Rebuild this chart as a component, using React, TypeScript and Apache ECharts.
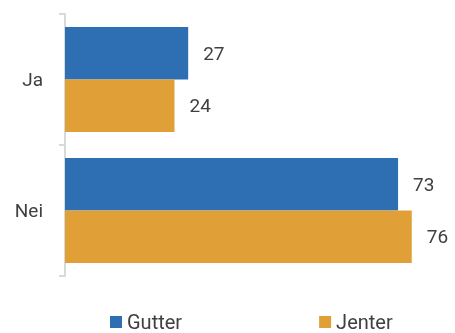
import React, { useEffect, useRef } from "react";
import * as echarts from "echarts";

const categories = ["Ja", "Nei"];
const seriesNames = ["Gutter", "Jenter"];
const gutter = [27, 73];
const jenter = [24, 76];
const colors = ["#2e6fb4", "#e09f37"];

export default function App() {
  const ref = useRef<HTMLDivElement>(null);
  useEffect(() => {
    const chart = echarts.init(ref.current!, null, { renderer: "svg" });
    const font = "Roboto";
    const label = {
      show: true,
      position: "right",
      distance: 15,
      color: "#404040",
      fontSize: 19,
      fontFamily: font,
    };
    chart.setOption({
      animation: false,
      textStyle: { fontFamily: font },
      legend: {
        left: 105,
        top: 307,
        itemWidth: 12,
        itemHeight: 12,
        itemGap: 137,
        icon: "rect",
        textStyle: { fontSize: 20, color: "#404040", fontFamily: font },
        data: seriesNames,
      },
      grid: { left: 65, top: 14, bottom: 57, width: 365 },
      xAxis: {
        type: "value",
        min: 0,
        max: 80,
        show: false,
      },
      yAxis: {
        type: "category",
        inverse: true,
        data: categories,
        axisLine: { show: true, lineStyle: { color: "#d9d9d9", width: 2 } },
        axisTick: { show: true, length: 6, lineStyle: { color: "#d9d9d9", width: 2 } },
        axisLabel: { fontSize: 19, color: "#404040", margin: 22, fontFamily: font },
        splitLine: { show: false },
      },
      series: [
        {
          name: seriesNames[0],
          type: "bar",
          data: gutter,
          itemStyle: { color: colors[0] },
          barGap: "0%",
          barCategoryGap: "20%",
          label,
        },
        {
          name: seriesNames[1],
          type: "bar",
          data: jenter,
          itemStyle: { color: colors[1] },
          barGap: "0%",
          barCategoryGap: "20%",
          label,
        },
      ],
    });
    return () => chart.dispose();
  }, []);
  return (
    <div
      ref={ref}
      style={{ position: "fixed", left: 0, top: 0, width: 455, height: 333 }}
    />
  );
}
